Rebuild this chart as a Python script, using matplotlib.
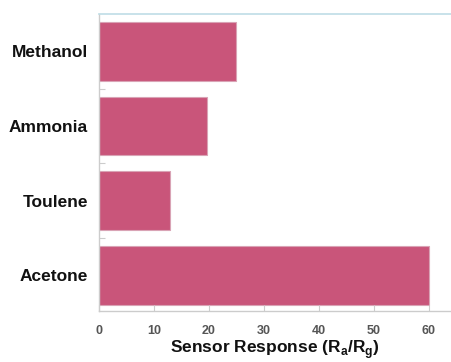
import matplotlib
matplotlib.use("Agg")
import matplotlib.pyplot as plt
import numpy as np

gases = ["Acetone", "Toulene", "Ammonia", "Methanol"]
response = [60, 13, 19.6, 25]
x_ticks = [0, 10, 20, 30, 40, 50, 60]

plt.rcParams["font.family"] = ["Liberation Sans", "DejaVu Sans"]
plt.rcParams["mathtext.fontset"] = "custom"
plt.rcParams["mathtext.rm"] = "Liberation Sans"
plt.rcParams["mathtext.bf"] = "Liberation Sans:bold"

fig = plt.figure(figsize=(4.51, 3.62), dpi=100)
ax = fig.add_axes([0.2195, 0.141, 0.7805, 0.82])

pos = np.arange(len(gases))
ax.barh(pos, response, height=0.79, color="#C9557A", edgecolor="#D9A3B5", linewidth=0.8)

ax.set_xlim(0, 64)
ax.set_ylim(-0.48, 3.5)
ax.set_xticks(x_ticks)
ax.set_xticklabels([str(t) for t in x_ticks], fontsize=9, color="#555555", fontweight="bold")
ax.set_yticks(pos)
ax.set_yticklabels(gases, fontsize=12.5, fontweight="bold", color="#111111")
ax.set_yticks(pos[:-1] + 0.5, minor=True)

ax.tick_params(axis="x", direction="in", length=4, color="#CCCCCC", width=0.8, pad=10)
ax.tick_params(axis="y", which="major", length=0, pad=8)
ax.tick_params(axis="y", which="minor", direction="in", length=4, color="#CCCCCC", width=0.8)

ax.spines["right"].set_visible(False)
ax.spines["top"].set_color("#BFDDE6")
ax.spines["top"].set_linewidth(1.2)
ax.spines["left"].set_color("#CCCCCC")
ax.spines["bottom"].set_color("#CCCCCC")
ax.spines["left"].set_linewidth(1.0)
ax.spines["bottom"].set_linewidth(1.0)

ax.set_xlabel(r"Sensor Response (R$_\mathbf{a}$/R$_\mathbf{g}$)", fontsize=12.5,
              fontweight="bold", color="#111111", labelpad=1)

fig.savefig("out.png", dpi=100)
